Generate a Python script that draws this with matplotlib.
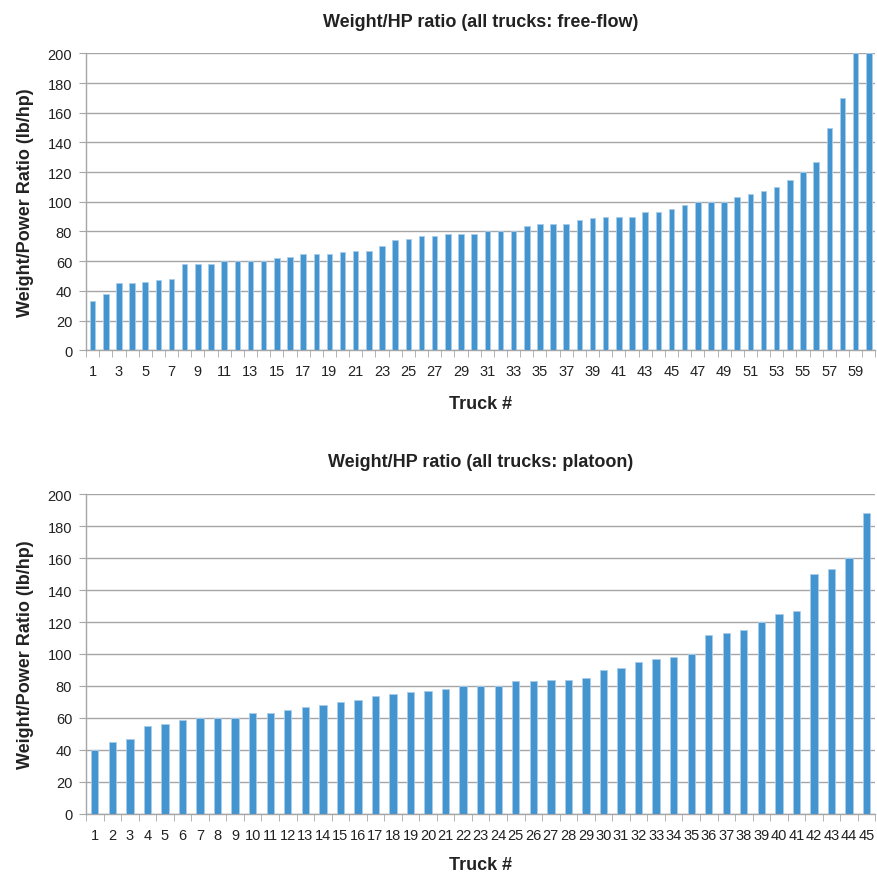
import matplotlib.pyplot as plt
import numpy as np

plt.rcParams['font.family'] = ['Liberation Sans', 'DejaVu Sans']

# free-flow: 60 trucks
freeflow = [33, 38, 45, 45, 46, 47, 48, 58, 58, 58,
            60, 60, 60, 60, 62, 63, 65, 65, 65, 66,
            67, 67, 70, 74, 75, 77, 77, 78, 78, 78,
            80, 80, 80, 84, 85, 85, 85, 88, 89, 90,
            90, 90, 93, 93, 95, 98, 100, 100, 100, 103,
            105, 107, 110, 115, 120, 127, 150, 170, 200, 200]

# platoon: 45 trucks
platoon = [40, 45, 47, 55, 56, 59, 60, 60, 60, 63,
           63, 65, 67, 68, 70, 71, 74, 75, 76, 77,
           78, 80, 80, 80, 83, 83, 84, 84, 85, 90,
           91, 95, 97, 98, 100, 112, 113, 115, 120, 125,
           127, 150, 153, 160, 188]

titles = ['Weight/HP ratio (all trucks: free-flow)',
          'Weight/HP ratio (all trucks: platoon)']

bar_color = '#4494D0'
grid_color = '#A6A6A6'

fig = plt.figure(figsize=(8.78, 8.78), dpi=100)
ax1 = fig.add_axes([0.098, 0.600, 0.899, 0.338])
ax2 = fig.add_axes([0.098, 0.072, 0.899, 0.364])


def draw(ax, vals, title, step, xpad):
    n = len(vals)
    x = np.arange(1, n + 1)
    ax.bar(x, vals, width=0.42, color=bar_color, edgecolor='#A9CDEB',
           linewidth=0.6, zorder=3)
    ax.set_xlim(0.5, n + 0.5)
    ax.set_ylim(0, 200)
    ax.set_yticks(np.arange(0, 201, 20))
    ax.yaxis.grid(True, color=grid_color, linewidth=1.0, zorder=0)
    ax.set_xticks(x[::step])
    ax.set_xticklabels([str(i) for i in x[::step]])
    ax.set_xticks(np.arange(0.5, n + 1, 1), minor=True)
    ax.tick_params(axis='x', which='major', length=0, pad=10, labelsize=10.5,
                   colors='#222222')
    ax.tick_params(axis='x', which='minor', length=5, color=grid_color,
                   direction='out')
    ax.tick_params(axis='y', length=5, color=grid_color, labelsize=10.5,
                   labelcolor='#222222', pad=5)
    for s in ['top', 'right']:
        ax.spines[s].set_visible(False)
    for s in ['left', 'bottom']:
        ax.spines[s].set_color(grid_color)
        ax.spines[s].set_linewidth(1.0)
    ax.set_title(title, fontsize=13, fontweight='bold', pad=20, color='#222222')
    ax.set_xlabel('Truck #', fontsize=13, fontweight='bold', labelpad=xpad,
                  color='#222222')
    ax.set_ylabel('Weight/Power Ratio (lb/hp)', fontsize=13, fontweight='bold',
                  labelpad=10, color='#222222')


draw(ax1, freeflow, titles[0], 2, 12)
draw(ax2, platoon, titles[1], 1, 10)

fig.savefig('out.png', dpi=100, facecolor='white')
